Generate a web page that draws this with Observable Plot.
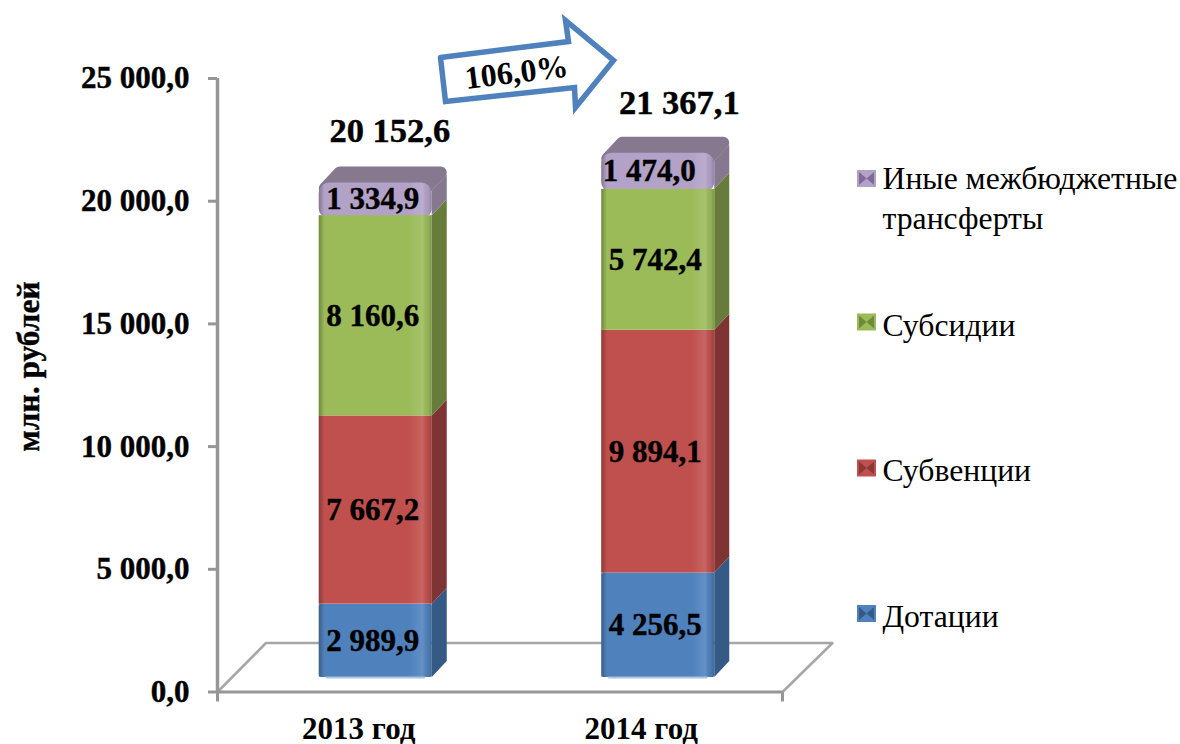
<!DOCTYPE html>
<html lang="ru">
<head>
<meta charset="utf-8">
<script src="https://cdn.jsdelivr.net/npm/d3@7"></script>
<script src="https://cdn.jsdelivr.net/npm/@observablehq/plot@0.6"></script>
<style>
html,body{margin:0;padding:0;background:#fff;}
svg{display:block;}
</style>
</head>
<body>
<div id="chart"></div>
<script>
const years = ["2013 год", "2014 год"];
const seriesNames = ["Дотации", "Субвенции", "Субсидии", "Иные межбюджетные трансферты"];
const dotacii = [2989.9, 4256.5];
const subvencii = [7667.2, 9894.1];
const subsidii = [8160.6, 5742.4];
const inye = [1334.9, 1474.0];
const totals = [20152.6, 21367.1];
const yTicks = [0, 5000, 10000, 15000, 20000, 25000];
const growthLabel = "106,0%";
const front = ["#4f81bd", "#c0504d", "#9bbb59", "#b3a2c7"];
const side = ["#355a86", "#7e3432", "#677c3b", "#86788f"];
const swatchDark = ["#37598a", "#8a3835", "#6f8a3d", "#7d6a96"];

const W = 1180, H = 744;
const L = 217, R = 782, T = 78, B = 691.5;
const xScale = d3.scaleLinear().domain([-0.5, 1.5]).range([L, R]);
const yScale = d3.scaleLinear().domain([0, 25000]).range([B, T]);
const xAt = px => xScale.invert(px);
const yAt = px => yScale.invert(px);
const xLen = px => px / (R - L) * 2;
const yLen = px => px / (B - T) * 25000;

const fmt = v => {
  const [i, d] = v.toFixed(1).split(".");
  return i.replace(/\B(?=(\d{3})+$)/g, " ") + "," + d;
};

const base = yLen(14.5);
const barShift = xLen(17), half = xLen(56.5), dx = xLen(15), dy = yLen(16);
const values = [dotacii, subvencii, subsidii, inye];

const segs = [];
years.forEach((yr, i) => {
  let acc = base;
  values.forEach((arr, s) => {
    const c = i + barShift;
    segs.push({i, s, v: arr[i], x1: c - half, x2: c + half, y1: acc, y2: acc + arr[i], c});
    acc += arr[i];
  });
});

const sideData = segs.flatMap(d => {
  const top = d.s === 3 ? yLen(8) : 0;
  return [
    {k: `${d.i}-${d.s}`, s: d.s, x: d.x2, y1: d.y1, y2: d.y2 - top},
    {k: `${d.i}-${d.s}`, s: d.s, x: d.x2 + dx, y1: d.y1 + dy, y2: d.y2 + dy - top}
  ];
});
const topData = segs.filter(d => d.s === 3).flatMap(d => {
  const inX = xLen(6), inY = yLen(6);
  const a = d.x1 + inX, b = d.x2 + dx - inX, t = d.y2 - inY, u = t + dy;
  return [
    {k: d.i, x: a, y1: t, y2: t},
    {k: d.i, x: a + dx, y1: t, y2: u},
    {k: d.i, x: b - dx, y1: t, y2: u},
    {k: d.i, x: b, y1: u, y2: u}
  ];
});
const floorLine = [
  {x: xAt(217), y: 0},
  {x: xAt(265.5), y: yLen(49)},
  {x: xAt(832), y: yLen(49)},
  {x: xAt(782), y: 0}
];
const arrow = [[440,57],[568,41],[565,20],[613,60],[575,107],[574,87],[445,101],[440,57]]
  .map(([a,b]) => ({x: xAt(a), y: yAt(b)}));

const legendY = [613.5, 468, 322, 178.5];
const legendX = xAt(882);
const legendText = [
  {t: seriesNames[0], y: 616},
  {t: seriesNames[1], y: 470},
  {t: seriesNames[2], y: 325},
  {t: "Иные межбюджетные", y: 178},
  {t: "трансферты", y: 218}
];
const swatches = legendY.map((py, s) => ({s, py, x1: xAt(857), x2: xAt(876), y1: yAt(py + 8.5), y2: yAt(py - 8.5)}));
const swatchTie = swatches.flatMap(d => [
  {s: d.s, x: d.x1 + xLen(2), y1: d.y1 + yLen(2), y2: d.y2 - yLen(2)},
  {s: d.s, x: (d.x1 + d.x2) / 2, y1: (d.y1 + d.y2) / 2, y2: (d.y1 + d.y2) / 2},
  {s: d.s, x: d.x2 - xLen(2), y1: d.y1 + yLen(2), y2: d.y2 - yLen(2)}
]);

const defs = () => {
  const g = document.createElementNS("http://www.w3.org/2000/svg", "g");
  g.innerHTML = `<defs><linearGradient id="sheen" x1="0" x2="1" y1="0" y2="0">
    <stop offset="0" stop-color="#000" stop-opacity=".28"/>
    <stop offset=".05" stop-color="#000" stop-opacity="0"/>
    <stop offset=".8" stop-color="#fff" stop-opacity="0"/>
    <stop offset=".92" stop-color="#fff" stop-opacity=".12"/>
    <stop offset=".97" stop-color="#000" stop-opacity=".05"/>
    <stop offset="1" stop-color="#000" stop-opacity=".2"/>
  </linearGradient></defs>`;
  return g;
};

const serif = "'Liberation Serif','Times New Roman',serif";
const grey = "#969696";
const bold = {fontFamily: serif, fontWeight: "bold", fill: "#000", stroke: "#000", strokeWidth: 0.4};

const marks = [
  defs,
  Plot.line(floorLine, {x: "x", y: "y", stroke: "#a6a6a6", strokeWidth: 2.5}),
  Plot.ruleY([0], {stroke: grey, strokeWidth: 3}),
  Plot.ruleX([-0.5], {y1: 0, y2: 25000, stroke: grey, strokeWidth: 3.5}),
  Plot.axisY(yTicks, {
    tickFormat: fmt, tickSize: 9, tickPadding: 19, stroke: grey, strokeWidth: 3, fontSize: 31,
    fontFamily: serif, fontWeight: "bold", fill: "#000", label: null, textStroke: "#000", textStrokeWidth: 0.4
  }),
  Plot.ruleX([-0.5, 1.5], {y1: 0, y2: -yLen(10), stroke: grey, strokeWidth: 3}),
  Plot.axisX([0, 1], {
    tickFormat: i => years[i], tickSize: 0, tickPadding: 25, stroke: "none", fontSize: 31,
    fontFamily: serif, fontWeight: "bold", fill: "#000", label: null
  }),
  ...front.map((_, s) => Plot.area(sideData.filter(d => d.s === s), {
    x1: "x", y1: "y1", y2: "y2", z: "k", fill: side[s]
  })),
  Plot.area(topData, {
    x1: "x", y1: "y1", y2: "y2", z: "k", fill: side[3], stroke: side[3], strokeWidth: 12, strokeLinejoin: "round"
  }),
  Plot.rect(segs.filter(d => d.s === 3), {
    x1: "x1", x2: "x2", y1: d => d.y1 - 150, y2: "y2", fill: front[3], rx: 11
  }),
  Plot.rect(segs.filter(d => d.s === 3), {
    x1: "x1", x2: "x2", y1: d => d.y1 - 150, y2: "y2", fill: "url(#sheen)", rx: 11
  }),
  ...[0, 1, 2].map(s => Plot.rect(segs.filter(d => d.s === s), {
    x1: "x1", x2: "x2", y1: "y1", y2: "y2", fill: front[s], rx: s === 0 ? 2 : 0
  })),
  Plot.rect(segs.filter(d => d.s < 3), {x1: "x1", x2: "x2", y1: "y1", y2: "y2", fill: "url(#sheen)"}),
  Plot.ruleY(segs.filter(d => d.s === 0), {
    x1: d => d.x1 + xLen(7), x2: d => d.x2 - xLen(7), y: "y1", stroke: "#a9c3e3", strokeWidth: 2
  }),
  Plot.text(segs, {
    x: d => d.c - xLen(d.s === 3 && d.i === 1 ? 9 : 3), y: d => (d.y1 + d.y2) / 2, text: d => fmt(d.v),
    fontSize: 31, dy: 0, ...bold
  }),
  Plot.text(years.map((_, i) => i), {
    x: i => i + barShift + xLen(i ? 21 : 14), y: i => totals[i] + base - yLen(i ? 2 : 0), text: i => fmt(totals[i]),
    dy: -52, fontSize: 34.5, ...bold
  }),
  Plot.line(arrow, {
    x: "x", y: "y", fill: "#fff", stroke: "#4f81bd", strokeWidth: 5.5, strokeLinejoin: "miter", strokeMiterlimit: 4
  }),
  Plot.text([growthLabel], {
    x: xAt(516), y: yAt(72), text: d => d, rotate: -7, fontSize: 32, fontFamily: serif, fontWeight: "bold", fill: "#000"
  }),
  Plot.text(["млн. рублей"], {
    x: xAt(28), y: yAt(366), text: d => d, rotate: -90, fontSize: 31.5, ...bold
  }),
  Plot.rect(swatches, {x1: "x1", x2: "x2", y1: "y1", y2: "y2", fill: d => front[d.s]}),
  ...front.map((_, s) => Plot.area(swatchTie.filter(d => d.s === s), {
    x1: "x", y1: "y1", y2: "y2", fill: swatchDark[s]
  })),
  Plot.text(legendText, {
    x: legendX, y: d => yAt(d.y), text: "t", textAnchor: "start", fontSize: 31.7, fontFamily: serif, fill: "#000"
  })
];

const chart = Plot.plot({
  width: W, height: H,
  marginLeft: L, marginRight: W - R, marginTop: T, marginBottom: H - B,
  x: {type: "linear", domain: [-0.5, 1.5], axis: null},
  y: {type: "linear", domain: [0, 25000], axis: null},
  style: {background: "#fff", overflow: "visible"},
  marks
});
document.getElementById("chart").appendChild(chart);
</script>
</body>
</html>
